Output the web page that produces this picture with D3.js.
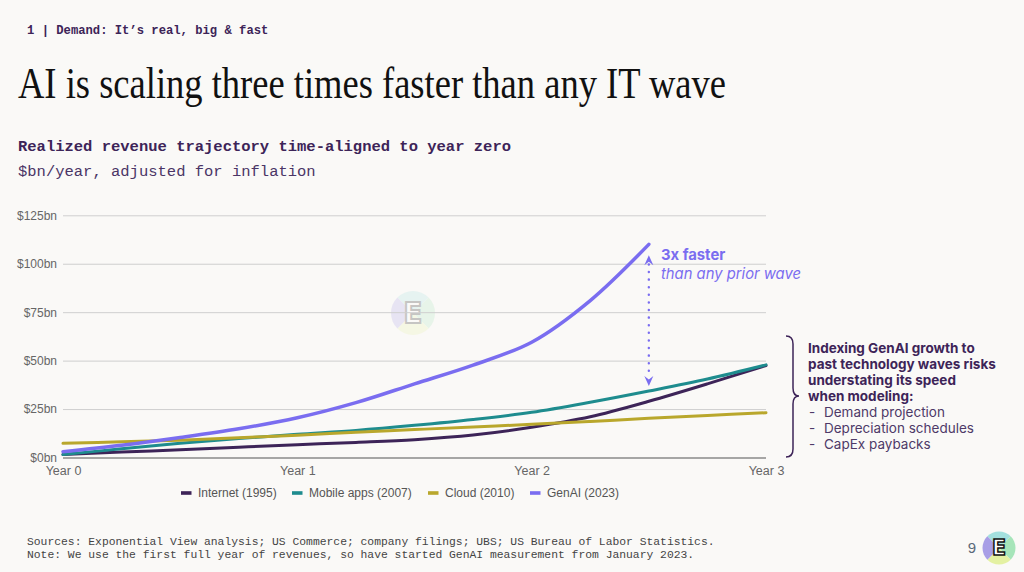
<!DOCTYPE html>
<html>
<head>
<meta charset="utf-8">
<script src="https://cdn.jsdelivr.net/npm/d3@7"></script>
<style>
  html, body { margin: 0; padding: 0; background: #faf9f7; }
  svg { display: block; }
</style>
</head>
<body>
<svg id="chart"></svg>
<script>
// 数据
const years = [0, 0.25, 0.5, 0.75, 1, 1.25, 1.5, 1.75, 2, 2.25, 2.5, 2.75, 3];
const internet = [1.5, 2.8, 4.0, 5.3, 6.6, 7.8, 9.2, 11.6, 15.6, 21, 29, 38, 47.5];
const mobileApps = [1.5, 4.5, 7.3, 9.8, 12, 14, 16.6, 19.6, 23.3, 28.5, 34.3, 40.5, 47.8];
const cloud = [7.3, 8.1, 8.9, 10.2, 11.5, 13, 14.4, 15.8, 17.1, 18.6, 20.2, 21.7, 23.1];
const genAI = [3, 6.3, 10.3, 14.8, 20.5, 28.3, 38, 47.7, 59.5, 81, 110];

const yTicks = [0, 25, 50, 75, 100, 125];
const xTicks = [0, 1, 2, 3];
const xLabels = ["Year 0", "Year 1", "Year 2", "Year 3"];

const series = [
  { name: "Internet (1995)", values: internet, color: "#3d2458", width: 3 },
  { name: "Mobile apps (2007)", values: mobileApps, color: "#1e8c8e", width: 3 },
  { name: "Cloud (2010)", values: cloud, color: "#b9a72c", width: 3 },
  { name: "GenAI (2023)", values: genAI, color: "#7a6df0", width: 3.5 },
];

const width = 1024, height = 572;
const margin = { top: 215.3, right: 258, bottom: 114.5, left: 63 };
const innerW = width - margin.left - margin.right;
const innerH = height - margin.top - margin.bottom;

const svg = d3.select("#chart").attr("width", width).attr("height", height)
  .attr("viewBox", [0, 0, width, height]);

svg.append("rect").attr("width", width).attr("height", height).attr("fill", "#faf9f7");

// 页眉 & 标题
svg.append("text")
  .attr("x", 27).attr("y", 34)
  .attr("font-family", "'Liberation Mono', 'DejaVu Sans Mono', monospace")
  .attr("font-size", 12.2).attr("font-weight", "bold")
  .attr("fill", "#3d2458")
  .text("1 | Demand: It\u2019s real, big & fast");

svg.append("text")
  .attr("x", 18).attr("y", 98)
  .attr("font-family", "'Liberation Serif', 'DejaVu Serif', serif")
  .attr("font-size", 45)
  .attr("fill", "#111")
  .attr("textLength", 708).attr("lengthAdjust", "spacingAndGlyphs")
  .text("AI is scaling three times faster than any IT wave");

svg.append("text")
  .attr("x", 18).attr("y", 151)
  .attr("font-family", "'Liberation Mono', 'DejaVu Sans Mono', monospace")
  .attr("font-size", 15.5).attr("font-weight", "bold")
  .attr("fill", "#3d2458")
  .text("Realized revenue trajectory time-aligned to year zero");

svg.append("text")
  .attr("x", 18).attr("y", 176)
  .attr("font-family", "'Liberation Mono', 'DejaVu Sans Mono', monospace")
  .attr("font-size", 15.5)
  .attr("fill", "#4a3566")
  .text("$bn/year, adjusted for inflation");

// 比例尺
const x = d3.scaleLinear().domain([0, 3]).range([margin.left, margin.left + innerW]);
const y = d3.scaleLinear().domain([0, 125]).range([margin.top + innerH, margin.top]);

// 水印 logo
function drawLogo(g, r) {
  const arc = d3.arc().innerRadius(0).outerRadius(r);
  const quads = [
    { a0: -Math.PI / 4, a1: Math.PI / 4, c: "#a3e0de" },
    { a0: Math.PI / 4, a1: 3 * Math.PI / 4, c: "#a6e5b9" },
    { a0: 3 * Math.PI / 4, a1: 5 * Math.PI / 4, c: "#e4f1a2" },
    { a0: 5 * Math.PI / 4, a1: 7 * Math.PI / 4, c: "#a89ee6" },
  ];
  g.selectAll("path.q").data(quads).join("path").attr("class", "q")
    .attr("d", d => arc({ startAngle: d.a0, endAngle: d.a1 }))
    .attr("fill", d => d.c);
  g.append("text")
    .attr("text-anchor", "middle").attr("dominant-baseline", "central")
    .attr("font-family", "'DejaVu Sans', sans-serif").attr("font-weight", "bold")
    .attr("font-size", r * 1.25)
    .attr("fill", "#fff").attr("stroke", "#111").attr("stroke-width", r * 0.09)
    .text("E");
}
drawLogo(svg.append("g").attr("transform", "translate(413,313)").attr("opacity", 0.22), 22);

// 坐标轴
const yAxisG = svg.append("g")
  .attr("transform", `translate(${margin.left},0)`)
  .call(d3.axisLeft(y).tickValues(yTicks).tickSize(-innerW).tickPadding(6)
    .tickFormat(d => `$${d}bn`));
yAxisG.select(".domain").remove();
yAxisG.selectAll(".tick line")
  .attr("stroke", d => d === 0 ? "#8a8a8a" : "#cfcfcf")
  .attr("stroke-width", d => d === 0 ? 1.5 : 1);
yAxisG.selectAll(".tick text")
  .attr("font-family", "'Liberation Sans', Arial, sans-serif")
  .attr("font-size", 12).attr("fill", "#666");

const xAxisG = svg.append("g")
  .attr("transform", `translate(0,${margin.top + innerH})`)
  .call(d3.axisBottom(x).tickValues(xTicks).tickSize(0).tickPadding(8.5)
    .tickFormat((d, i) => xLabels[i]));
xAxisG.select(".domain").remove();
xAxisG.selectAll(".tick text")
  .attr("font-family", "'Liberation Sans', Arial, sans-serif")
  .attr("font-size", 12.5).attr("fill", "#666");

// 折线
const line = d3.line()
  .x((d, i) => x(years[i]))
  .y(d => y(d))
  .curve(d3.curveCatmullRom.alpha(0.5));

svg.append("g").attr("class", "lines")
  .selectAll("path")
  .data(series)
  .join("path")
  .attr("d", d => line(d.values))
  .attr("fill", "none")
  .attr("stroke", d => d.color)
  .attr("stroke-width", d => d.width)
  .attr("stroke-linecap", "round");

// 3x 注释（虚线双箭头）
const arrowX = x(years[genAI.length - 1]);
const topY = y(genAI[genAI.length - 1]) + 11;
const botY = y(mobileApps[10]) - 5;
const purple = "#7a6df0";
svg.append("line")
  .attr("x1", arrowX).attr("x2", arrowX)
  .attr("y1", topY + 9).attr("y2", botY - 9)
  .attr("stroke", purple).attr("stroke-width", 2.4)
  .attr("stroke-linecap", "round")
  .attr("stroke-dasharray", "0.1 7.5");
const head = "M0,0 L4.5,10 L0,6.5 L-4.5,10 Z";
svg.append("path").attr("d", head)
  .attr("transform", `translate(${arrowX},${topY})`).attr("fill", purple);
svg.append("path").attr("d", head)
  .attr("transform", `translate(${arrowX},${botY}) rotate(180)`).attr("fill", purple);

svg.append("text")
  .attr("x", 661).attr("y", 260)
  .attr("font-family", "Inter, 'Noto Sans', sans-serif")
  .attr("font-size", 14.8).attr("font-weight", 700)
  .attr("fill", purple).text("3x faster");
svg.append("text")
  .attr("x", 661).attr("y", 279)
  .attr("font-family", "Inter, 'Noto Sans', sans-serif")
  .attr("font-size", 14.8).attr("font-style", "italic")
  .attr("fill", purple).text("than any prior wave");

// 右侧括号 + 说明
const bx = 793, bTop = 336, bBot = 457, bMid = 396;
svg.append("path")
  .attr("d", `M${bx - 7},${bTop} Q${bx},${bTop} ${bx},${bTop + 8}
              L${bx},${bMid - 8} Q${bx},${bMid} ${bx + 6},${bMid}
              Q${bx},${bMid} ${bx},${bMid + 8}
              L${bx},${bBot - 8} Q${bx},${bBot} ${bx - 7},${bBot}`)
  .attr("fill", "none").attr("stroke", "#3d2458").attr("stroke-width", 1.5);

const noteBold = ["Indexing GenAI growth to", "past technology waves risks",
  "understating its speed", "when modeling:"];
const noteItems = ["Demand projection", "Depreciation schedules", "CapEx paybacks"];
const note = svg.append("g")
  .attr("font-family", "Inter, 'Noto Sans', sans-serif")
  .attr("font-size", 13.5);
note.selectAll("text.b").data(noteBold).join("text").attr("class", "b")
  .attr("x", 808).attr("y", (d, i) => 353 + i * 16)
  .attr("font-weight", 700).attr("fill", "#3d2458").text(d => d);
note.selectAll("text.dash").data(noteItems).join("text").attr("class", "dash")
  .attr("x", 809).attr("y", (d, i) => 417 + i * 16)
  .attr("fill", "#4e3a68").text("-");
note.selectAll("text.it").data(noteItems).join("text").attr("class", "it")
  .attr("x", 824).attr("y", (d, i) => 417 + i * 16)
  .attr("fill", "#4e3a68").text(d => d);

// 图例
const legendX = [181, 292, 428, 530];
const legend = svg.append("g").attr("class", "legend");
const items = legend.selectAll("g").data(series).join("g")
  .attr("transform", (d, i) => `translate(${legendX[i]},493)`);
items.append("rect").attr("x", 0).attr("y", -1.8).attr("width", 10.5).attr("height", 3.6)
  .attr("fill", d => d.color);
items.append("text").attr("x", 17).attr("y", 0).attr("dy", "0.35em")
  .attr("font-family", "'Liberation Sans', Arial, sans-serif")
  .attr("font-size", 12).attr("fill", "#555")
  .text(d => d.name);

// 脚注
const footer = [
  "Sources: Exponential View analysis; US Commerce; company filings; UBS; US Bureau of Labor Statistics.",
  "Note: We use the first full year of revenues, so have started GenAI measurement from January 2023.",
];
svg.append("g").selectAll("text").data(footer).join("text")
  .attr("x", 27).attr("y", (d, i) => 545 + i * 13)
  .attr("font-family", "'Liberation Mono', 'DejaVu Sans Mono', monospace")
  .attr("font-size", 11.35).attr("fill", "#444")
  .text(d => d);

// 页码 + logo
svg.append("text").attr("x", 976).attr("y", 553).attr("text-anchor", "end")
  .attr("font-family", "'Liberation Sans', Arial, sans-serif")
  .attr("font-size", 15).attr("fill", "#5a6a7a").text("9");
drawLogo(svg.append("g").attr("transform", "translate(999,548)"), 16.5);
</script>
</body>
</html>
